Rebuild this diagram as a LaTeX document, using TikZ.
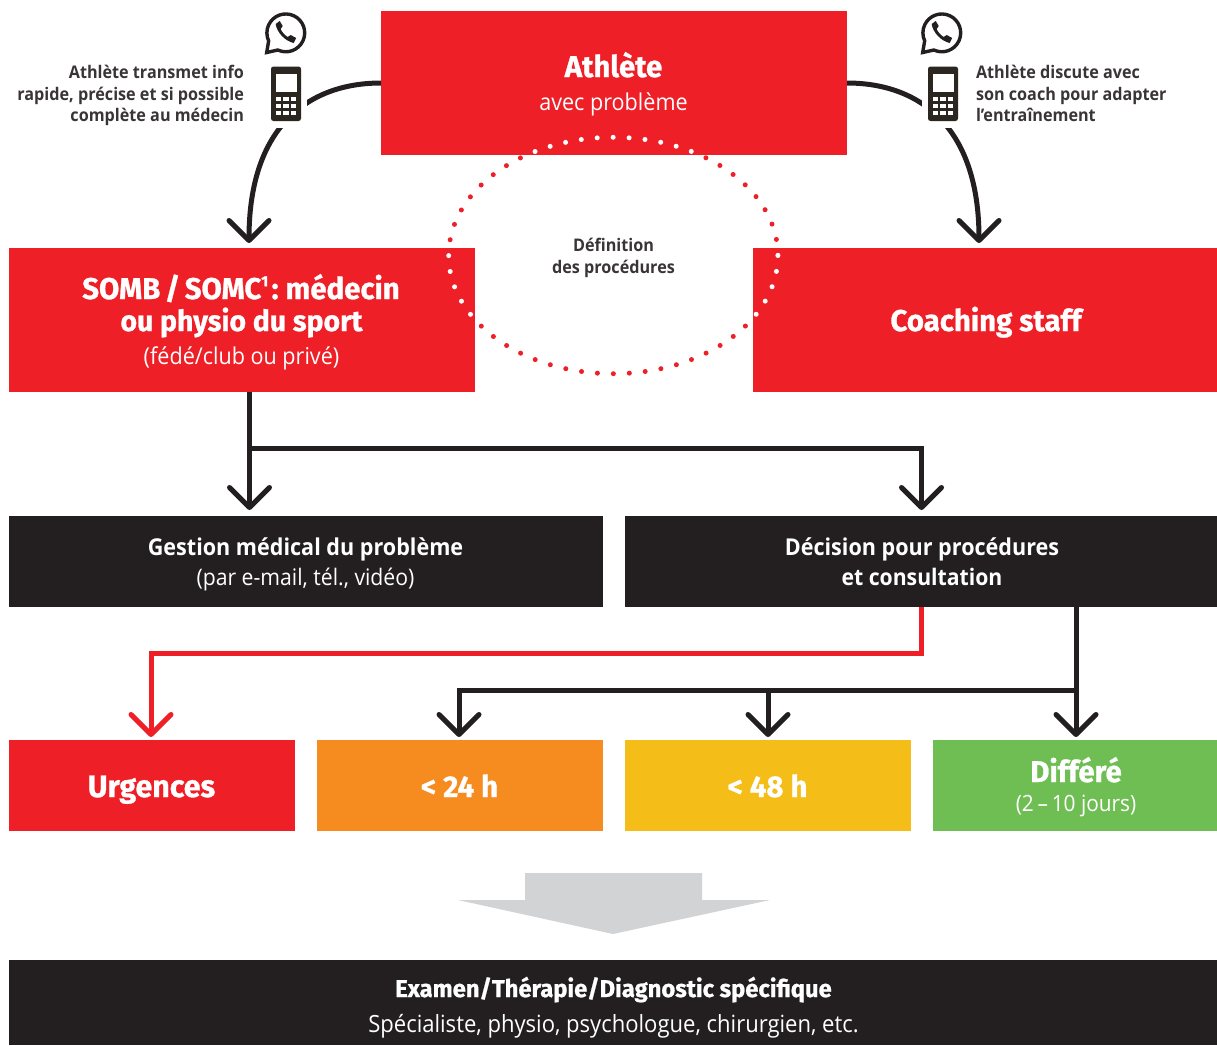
\documentclass[tikz,border=0pt]{standalone}
\usepackage{fontspec}
\usetikzlibrary{arrows.meta}
\setmainfont{Open Sans}[FakeStretch=0.93]
\newfontfamily\hd{Fira Sans}[FakeBold=0.9,FakeStretch=0.98]
\definecolor{rd}{HTML}{EE1F27}
\definecolor{dk}{HTML}{231F20}
\definecolor{og}{HTML}{F68B1F}
\definecolor{yl}{HTML}{F4BD17}
\definecolor{gn}{HTML}{6FBE54}
\definecolor{gy}{HTML}{D1D3D4}
\definecolor{ph}{HTML}{2B2620}
\tikzset{
 boxn/.style={inner sep=0pt,outer sep=0pt,anchor=north west},
 lbl/.style={inner sep=0pt,outer sep=0pt,anchor=base,text=white},
 big/.style={lbl,font=\fontsize{30}{34}\selectfont\hd\bfseries},
 sub/.style={lbl,font=\fontsize{23.2}{28}\selectfont},
 semi/.style={lbl,font=\fontsize{23.2}{28}\selectfont\bfseries},
 conn/.style={line width=5pt,draw=dk,-{Straight Barb[length=20pt,width=40pt,round]}},
 note/.style={inner sep=0pt,outer sep=0pt,text=dk!90,font=\fontsize{17.4}{21.5}\selectfont\bfseries},
 phone/.pic={
  \fill[white] (-21,-34) rectangle (21,34);
  \fill[ph,rounded corners=2.5pt] (-15,-27.5) rectangle (15,27);
  \fill[white] (-10.5,-20) rectangle (10.5,-2);
  \foreach \r in {0,1,2}\foreach \c in {-1,0,1}
   \fill[white] (\c*7.7-2.6,3+\r*6.8) rectangle ++(5.2,4.2);
 },
 wa/.pic={
  \draw[dk,line width=3.4pt,line join=miter] (-7.9,17) arc[start angle=115,end angle=-205,radius=18.9] -- (-19,19.5) -- cycle;
  \fill[dk] (-10,-9) .. controls (-9,-1) and (-1,8) .. (8,10) -- (10.5,5) -- (5,2) -- (2,4) .. controls (-1,2) and (-4,-1) .. (-5,-4) -- (-3,-7) -- (-6,-12) -- cycle;
 }
}
\begin{document}
\begin{tikzpicture}[x=1pt,y=-1pt]
\useasboundingbox (0,0) rectangle (1217,1045);
% boxes
\node[boxn,fill=rd,minimum width=466pt,minimum height=144pt] (ath) at (381,11) {};
\node[boxn,fill=rd,minimum width=466pt,minimum height=144pt] (somb) at (9,248) {};
\node[boxn,fill=rd,minimum width=464pt,minimum height=144pt] (coach) at (753,248) {};
\node[boxn,fill=dk,minimum width=594pt,minimum height=91pt] (gest) at (9,516) {};
\node[boxn,fill=dk,minimum width=592pt,minimum height=91pt] (deci) at (625,516) {};
\node[boxn,fill=rd,minimum width=286pt,minimum height=91pt] (urg) at (9,740) {};
\node[boxn,fill=og,minimum width=286pt,minimum height=91pt] (h24) at (317,740) {};
\node[boxn,fill=yl,minimum width=286pt,minimum height=91pt] (h48) at (625,740) {};
\node[boxn,fill=gn,minimum width=284pt,minimum height=91pt] (diff) at (933,740) {};
\node[boxn,fill=dk,minimum width=1208pt,minimum height=85pt] (exam) at (9,960) {};
% box texts
\node[big] (t1) at (613.5,77) {Athlète};
\node[sub] (t2) at (613.5,110) {avec problème};
\node[big] (t3) at (241,299) {SOMB\hspace{-.08em} /\hspace{-.08em} SOMC\raisebox{.42em}{\fontsize{15}{15}\selectfont 1}\hspace{-.12em} :\hspace{-.08em} médecin};
\node[big,font=\fontsize{29}{34}\selectfont\hd\bfseries] (t4) at (241.5,331) {ou physio du sport};
\node[sub] (t5) at (241.5,364) {(fédé/club ou privé)};
\node[big] (t6) at (986,331) {Coaching staff};
\node[semi] (t7) at (305.5,555) {Gestion médical du problème};
\node[sub,font=\fontsize{22.8}{28}\selectfont] (t8) at (305.5,585) {(par e-mail, tél., vidéo)};
\node[semi] (t9) at (922,555) {Décision pour procédures};
\node[semi,font=\fontsize{22.8}{28}\selectfont\bfseries] (t10) at (922,585) {et consultation};
\node[big,font=\fontsize{31}{34}\selectfont\hd\bfseries] (t11) at (151.5,797) {Urgences};
\node[big] (t12) at (459.5,797) {< 24 h};
\node[big] (t13) at (767.5,797) {< 48 h};
\node[big] (t14) at (1076,782) {Différé};
\node[sub,font=\fontsize{22.4}{28}\selectfont] (t15) at (1076,811) {(2\,–\,10 jours)};
\node[big,font=\fontsize{24.25}{30}\selectfont\hd\bfseries] (t16) at (613.5,997) {Examen/Thérapie/Diagnostic spécifique};
\node[sub,font=\fontsize{23.7}{28}\selectfont] (t17) at (613.5,1032) {Spécialiste, physio, psychologue, chirurgien, etc.};
% big arrow
\fill[gy] (525,873) -- (702,873) -- (702,900) -- (770,900) -- (613,934) -- (458,900) -- (525,900) -- cycle;
% dotted ellipse
\coordinate (ec) at (613.3,255.5);
\draw[rd,line width=5pt,line cap=round,dash pattern=on 0pt off 15.97pt] (ec) ellipse [x radius=164.6,y radius=118.2];
\begin{scope}
\clip (ath.north west) rectangle (ath.south east)
      (somb.north west) rectangle (somb.south east)
      (coach.north west) rectangle (coach.south east);
\draw[white,line width=5pt,line cap=round,dash pattern=on 0pt off 15.97pt] (ec) ellipse [x radius=164.6,y radius=118.2];
\end{scope}
\node[lbl,text=dk!90,font=\fontsize{17.4}{21}\selectfont\bfseries] (def1) at (613.5,251.5) {Définition};
\node[lbl,text=dk!90,font=\fontsize{17.4}{21}\selectfont\bfseries] (def2) at (613.5,273) {des procédures};
% curved connectors
\coordinate (lt) at (249,243);
\coordinate (rt) at (979,243);
\draw[conn] (ath.west) .. controls (310,83) and (249,125) .. (lt);
\draw[conn] (ath.east) .. controls (918,83) and (979,125) .. (rt);
% phones
\pic at (286,94) {phone};
\pic at (943,94) {phone};
% whatsapp icons
\pic at (285.7,33) {wa};
\pic at (941.7,33) {wa};
% side notes
\node[note,anchor=base east] (nl1) at (244,78) {Athlète transmet info};
\node[note,anchor=base east] (nl2) at (244,100) {rapide, précise et si possible};
\node[note,anchor=base east] (nl3) at (244,121) {complète au médecin};
\node[note,anchor=base west] (nr1) at (976,78) {Athlète discute avec};
\node[note,anchor=base west] (nr2) at (976,100) {son coach pour adapter};
\node[note,anchor=base west] (nr3) at (976,121) {l’entraînement};
% lower connectors
\coordinate (j1) at (249.5,448);
\coordinate (a1) at (249.5,510);
\coordinate (a2) at (921.5,510);
\draw[conn] (249.5,0 |- somb.south) -- (a1);
\draw[conn] (j1) -- (921.5,448) -- (a2);
\coordinate (s1) at (921.5,653);
\coordinate (s2) at (1076,690);
\draw[conn,draw=rd] (921.5,0 |- deci.south) -- (s1) -- (151,653) -- (151,737);
\draw[conn] (1076,0 |- deci.south) -- (1076,737);
\draw[conn] (s2) -- (459,690) -- (459,737);
\draw[conn] (768,690) -- (768,737);
\end{tikzpicture}
\end{document}
